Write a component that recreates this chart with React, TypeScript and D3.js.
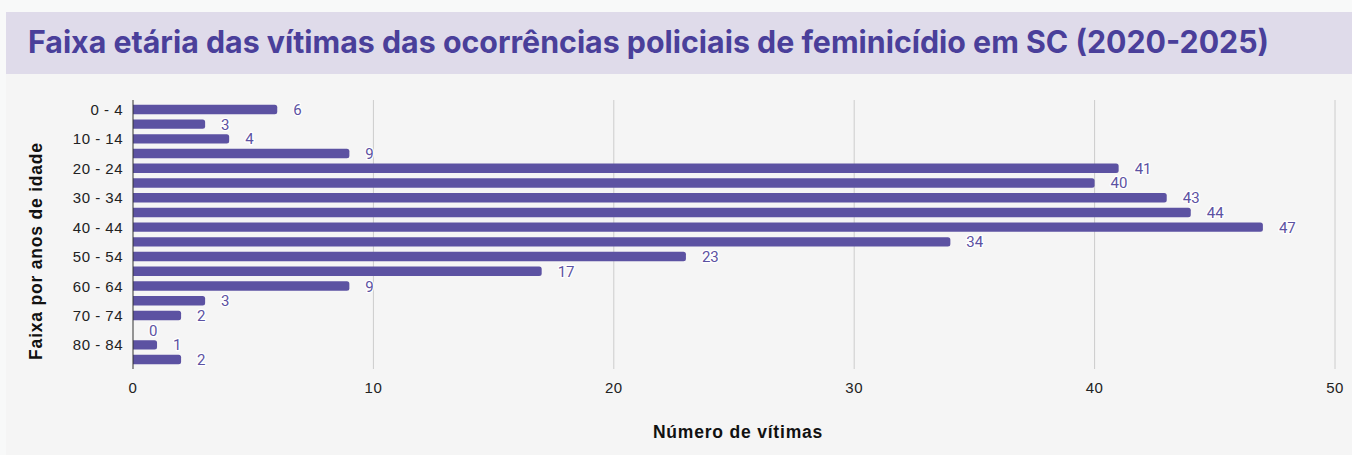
import React, { useEffect, useRef } from 'react'
import * as d3 from 'd3'

const faixas = [
  '0 - 4', '5 - 9', '10 - 14', '15 - 19', '20 - 24', '25 - 29', '30 - 34', '35 - 39', '40 - 44',
  '45 - 49', '50 - 54', '55 - 59', '60 - 64', '65 - 69', '70 - 74', '75 - 79', '80 - 84', '85+',
]
const vitimas = [6, 3, 4, 9, 41, 40, 43, 44, 47, 34, 23, 17, 9, 3, 2, 0, 1, 2]
const xTicks = [0, 10, 20, 30, 40, 50]
const shownLabels = ['0 - 4', '10 - 14', '20 - 24', '30 - 34', '40 - 44', '50 - 54', '60 - 64', '70 - 74', '80 - 84']

const titulo = 'Faixa etária das vítimas das ocorrências policiais de feminicídio em SC (2020-2025)'

export default function App() {
  const ref = useRef<SVGSVGElement>(null)

  useEffect(() => {
    const svg = d3.select(ref.current)
    svg.selectAll('*').remove()

    const width = 1352
    const height = 455
    const purple = '#5c52a2'
    const axisFont = '"Liberation Sans", Arial, sans-serif'

    svg.append('rect').attr('width', width).attr('height', height).attr('fill', '#f8f9f9')
    svg.append('rect').attr('x', 6).attr('y', 74).attr('width', width - 6).attr('height', height - 74).attr('fill', '#f5f5f5')

    // title band
    svg.append('rect').attr('x', 6).attr('y', 12).attr('width', width - 6).attr('height', 62).attr('fill', '#dfdbea')
    svg.append('text')
      .attr('x', 28).attr('y', 53)
      .attr('font-family', 'Inter, sans-serif')
      .attr('font-weight', 700)
      .attr('font-size', 31)
      .attr('fill', '#4a3f9a')
      .attr('textLength', 1241)
      .attr('lengthAdjust', 'spacingAndGlyphs')
      .text(titulo)

    const x = d3.scaleLinear().domain([0, 50]).range([133, 1335])
    const y = d3.scaleBand().domain(faixas).range([100, 369]).paddingInner(0.36).paddingOuter(0.32)

    // grid
    svg.append('g')
      .selectAll('line')
      .data(xTicks.slice(1))
      .join('line')
      .attr('x1', d => x(d)).attr('x2', d => x(d))
      .attr('y1', 100).attr('y2', 369)
      .attr('stroke', '#cccccc').attr('stroke-width', 1)

    // x tick labels
    svg.append('g')
      .selectAll('text')
      .data(xTicks)
      .join('text')
      .attr('x', d => x(d)).attr('y', 393)
      .attr('text-anchor', 'middle')
      .attr('font-family', axisFont)
      .attr('font-size', 15)
      .attr('letter-spacing', 0.5)
      .attr('fill', '#222')
      .text(d => d)

    // bars
    svg.append('g')
      .selectAll('path')
      .data(faixas.map((f, i) => ({ f, v: vitimas[i] })).filter(d => d.v > 0))
      .join('path')
      .attr('d', d => {
        const x0 = x(0), x1 = x(d.v), y0 = y(d.f)!, h = y.bandwidth(), r = 2.5
        return `M${x0},${y0}H${x1 - r}Q${x1},${y0} ${x1},${y0 + r}V${y0 + h - r}Q${x1},${y0 + h} ${x1 - r},${y0 + h}H${x0}Z`
      })
      .attr('fill', purple)

    // value labels
    svg.append('g')
      .selectAll('text')
      .data(faixas.map((f, i) => ({ f, v: vitimas[i] })))
      .join('text')
      .attr('x', d => x(d.v) + 16)
      .attr('y', d => y(d.f)! + y.bandwidth() / 2 + 5.5)
      .attr('font-family', 'Roboto, sans-serif')
      .attr('font-size', 15)
      .attr('fill', purple)
      .attr('stroke', '#ffffff')
      .attr('stroke-width', 2.5)
      .attr('paint-order', 'stroke')
      .attr('stroke-linejoin', 'round')
      .text(d => d.v)

    // y axis line
    svg.append('line')
      .attr('x1', 133).attr('x2', 133).attr('y1', 100).attr('y2', 369)
      .attr('stroke', '#333').attr('stroke-width', 1)

    // y tick labels
    svg.append('g')
      .selectAll('text')
      .data(shownLabels)
      .join('text')
      .attr('x', 123)
      .attr('y', d => y(d)! + y.bandwidth() / 2 + 5.5)
      .attr('text-anchor', 'end')
      .attr('font-family', axisFont)
      .attr('font-size', 15)
      .attr('letter-spacing', 0.5)
      .attr('fill', '#222')
      .text(d => d)

    // axis titles
    svg.append('text')
      .attr('x', 738).attr('y', 438)
      .attr('text-anchor', 'middle')
      .attr('font-family', axisFont)
      .attr('font-weight', 700)
      .attr('font-size', 17.5)
      .attr('letter-spacing', 0.8)
      .attr('fill', '#111')
      .text('Número de vítimas')

    svg.append('text')
      .attr('transform', 'translate(42,251) rotate(-90)')
      .attr('text-anchor', 'middle')
      .attr('font-family', axisFont)
      .attr('font-weight', 700)
      .attr('font-size', 17.5)
      .attr('letter-spacing', 0.8)
      .attr('fill', '#111')
      .text('Faixa por anos de idade')
  }, [])

  return <svg ref={ref} width={1352} height={455} style={{ position: 'absolute', left: 0, top: 0, display: 'block' }} />
}
